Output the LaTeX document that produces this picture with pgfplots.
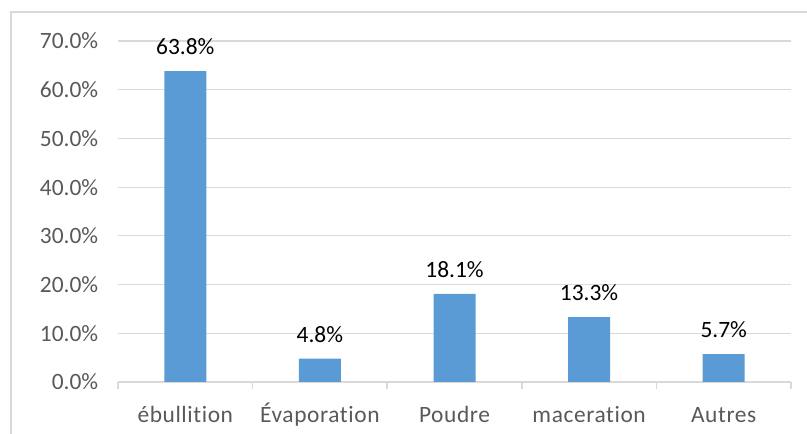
\documentclass[border=0pt]{standalone}
\usepackage{fontspec}
\setmainfont{Carlito}[Ligatures={NoCommon,NoRare,NoContextual}]
\newfontfamily\catfont{Carlito}[Ligatures={NoCommon,NoRare,NoContextual},LetterSpace=2.5]
\usepackage{pgfplots}
\pgfplotsset{compat=1.18}
\definecolor{barblue}{HTML}{5B9BD5}
\definecolor{gridgray}{HTML}{D9D9D9}
\definecolor{txtgray}{HTML}{595959}
\begin{document}
\begin{tikzpicture}[x=1bp,y=1bp]
\useasboundingbox (0,0) rectangle (807,434);
\draw[gridgray, line width=1.5bp] (11,-10) rectangle (830,422);
\begin{axis}[
  at={(118bp,52bp)}, anchor=south west,
  scale only axis, width=673bp, height=341bp,
  xmin=-0.5, xmax=4.5, ymin=0, ymax=70,
  axis x line*=bottom, axis y line*=left,
  y axis line style={draw=none},
  x axis line style={gridgray, line width=1.5bp},
  ytick={0,10,...,70},
  ytick style={draw=none},
  yticklabel={\pgfmathprintnumber[fixed,fixed zerofill,precision=1]{\tick}\%},
  yticklabel style={font=\fontsize{23.5}{28}\selectfont, text=txtgray, anchor=base east, yshift=-8bp, xshift=-12bp},
  /pgf/number format/assume math mode=true,
  ymajorgrids, grid style={gridgray, line width=1.2bp},
  xtick={0,1,2,3,4},
  xticklabels={ébullition, Évaporation, Poudre, maceration, Autres},
  xticklabel style={font=\catfont\fontsize{23.5}{28}\selectfont, text=txtgray, anchor=base, yshift=-36bp},
  major x tick style={draw=none},
  minor xtick={-0.5,0.5,1.5,2.5,3.5,4.5},
  minor x tick style={gridgray, line width=1.5bp},
  minor tick length=7bp,
  tick align=outside,
  nodes near coords={\pgfmathprintnumber[fixed,fixed zerofill,precision=1]{\pgfplotspointmeta}\%},
  nodes near coords style={font=\fontsize{23.5}{28}\selectfont, text=black, anchor=base, yshift=16.5bp},
  clip=false,
]
\addplot[ybar, bar width=42bp, fill=barblue, draw=none] coordinates {
  (0,63.8) (1,4.8) (2,18.1) (3,13.3) (4,5.7)
};
\end{axis}
\end{tikzpicture}
\end{document}
